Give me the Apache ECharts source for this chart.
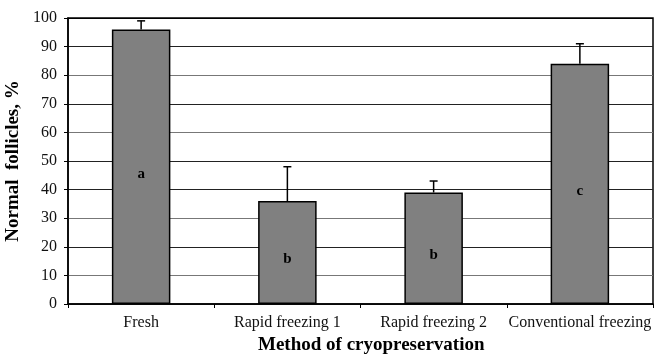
<!DOCTYPE html>
<html><head><meta charset="utf-8">
<script src="https://cdn.jsdelivr.net/npm/echarts@6/dist/echarts.min.js"></script>
<style>html,body{margin:0;padding:0;background:#fff}#c{width:654px;height:358px}</style>
</head><body><div id="c"></div>
<script>
const categories = ['Fresh', 'Rapid freezing 1', 'Rapid freezing 2', 'Conventional freezing'];
const values = [96, 36, 39, 84];
const errorsUp = [3, 12, 4, 7];
const letters = ['a', 'b', 'b', 'c'];
const yTicks = [0, 10, 20, 30, 40, 50, 60, 70, 80, 90, 100];

const chart = echarts.init(document.getElementById('c'));
const font = '"Liberation Serif", "Times New Roman", serif';
chart.setOption({
  animation: false,
  grid: { left: 68, right: 1, top: 18, bottom: 54, show: true, borderColor: '#000', borderWidth: 1.5,
          containLabel: false, outerBoundsMode: 'none' },
  xAxis: {
    type: 'category', data: categories, boundaryGap: true,
    axisLine: { lineStyle: { color: '#000', width: 1.5 } },
    axisTick: { show: true, length: 4, lineStyle: { color: '#000' } },
    axisLabel: { color: '#111', fontFamily: font, fontSize: 16, margin: 11, interval: 0, hideOverlap: false }
  },
  yAxis: {
    type: 'value', min: 0, max: 100, interval: 10,
    name: 'Normal  follicles, %', nameLocation: 'middle', nameGap: 38,
    nameTextStyle: { fontFamily: font, fontWeight: 'bold', fontSize: 19, color: '#000' },
    axisLine: { show: true, lineStyle: { color: '#000', width: 1.5 } },
    axisTick: { show: true, length: 4, lineStyle: { color: '#000' } },
    axisLabel: { color: '#111', fontFamily: font, fontSize: 16, margin: 11,
      formatter: v => yTicks.includes(v) ? String(v) : '' },
    splitLine: { lineStyle: { color: ['#222', '#777', '#222', '#777', '#222', '#222', '#777', '#222', '#777', '#222', '#000'], width: 1.2 } }
  },
  graphic: [{
    type: 'text', left: 258, top: 336,
    style: { text: 'Method of cryopreservation', font: 'bold 19px ' + font, fill: '#000' }
  }],
  series: [{
    type: 'bar', data: values, barWidth: '40%',
    itemStyle: { color: '#808080', borderColor: '#000', borderWidth: 1.5 },
    label: { show: true, position: 'inside', offset: [0, 7],
      formatter: p => letters[p.dataIndex],
      fontFamily: font, fontWeight: 'bold', fontSize: 15, color: '#000' },
    z: 2
  }, {
    type: 'custom',
    data: values.map((v, i) => [i, v, v + errorsUp[i]]),
    renderItem: (params, api) => {
      const base = api.coord([api.value(0), api.value(1)]);
      const top = api.coord([api.value(0), api.value(2)]);
      const hw = 4;
      return { type: 'group', children: [
        { type: 'line', shape: { x1: base[0], y1: base[1], x2: top[0], y2: top[1] }, style: { stroke: '#000', lineWidth: 1.5 } },
        { type: 'line', shape: { x1: top[0] - hw, y1: top[1], x2: top[0] + hw, y2: top[1] }, style: { stroke: '#000', lineWidth: 1.5 } }
      ]};
    },
    z: 3
  }]
});
</script></body></html>
